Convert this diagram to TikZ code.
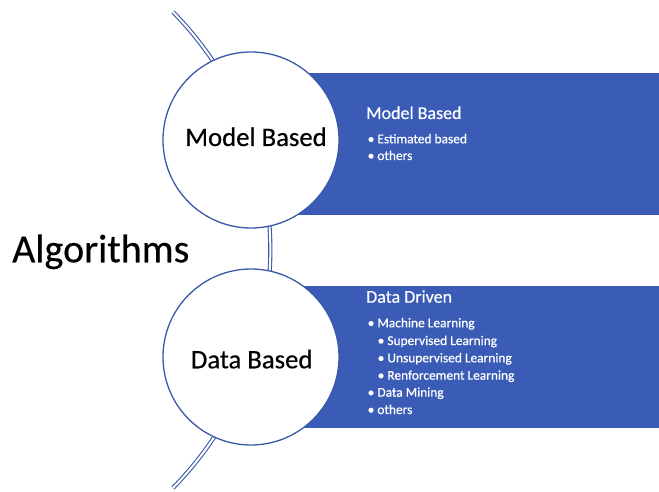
\documentclass[tikz,border=0pt]{standalone}
\usepackage{fontspec}
\setmainfont{Carlito}
\definecolor{panelblue}{HTML}{3A5CB6}
\definecolor{lineblue}{HTML}{3A5AA8}
\begin{document}
\begin{tikzpicture}[x=1pt,y=1pt,
  circ/.style={circle, draw=lineblue, line width=1.3pt, fill=white, minimum size=176pt, inner sep=0pt},
  panel/.style={fill=panelblue, draw=none},
  bigtext/.style={anchor=base, inner sep=0pt, text=black, font=\fontsize{26.7}{30}\selectfont\addfontfeature{FakeBold=0.4}},
  head/.style={anchor=base west, text=white, font=\fontsize{18}{20}\selectfont\addfontfeature{FakeBold=0.3}},
  item/.style={anchor=base west, text=white, font=\fontsize{13.4}{15}\selectfont\addfontfeature{FakeBold=0.6}},
  arcline/.style={draw=lineblue, line width=1.1pt, double=white, double distance=2pt}
]
\tikzset{head/.append style={inner sep=0pt}, item/.append style={inner sep=0pt}}
\useasboundingbox (0,0) rectangle (659,491);
\fill[white] (0,0) rectangle (659,491);
% big arc behind circles
\coordinate (arcTop) at (173,479);
\draw[arcline] (arcTop) arc[start angle=44.5, end angle=-44.5, radius=339.5];
% panels
\fill[panel] (251,418) rectangle (659,276);
\fill[panel] (251,205) rectangle (659,63);
% circles
\node[circ] (mbc) at (251,351) {};
\node[circ] (dbc) at (251,134) {};
\node[bigtext] (mbt) at (256,345) {Model Based};
\node[bigtext] (dbt) at (251.7,122.7) {Data Based};
% title
\node[anchor=base west, inner sep=0pt, font=\fontsize{40}{44}\selectfont\addfontfeature{FakeBold=0.4}] (alg) at (12,228.7) {Algorithms};
% top panel text
\node[head] (h1) at (366,372) {Model Based};
\node[item] (t1) at (367.5,347.7) {• Estimated based};
\node[item] (t2) at (367.5,331) {• others};
% bottom panel text
\node[head] (h2) at (366,188.3) {Data Driven};
\node[item] (b1) at (367.5,163.7) {• Machine Learning};
\node[item] (b2) at (377.5,146) {• Supervised Learning};
\node[item] (b3) at (377.5,128.7) {• Unsupervised Learning};
\node[item] (b4) at (377.5,111.3) {• Renforcement Learning};
\node[item] (b5) at (367.5,94.3) {• Data Mining};
\node[item] (b6) at (367.5,77) {• others};
\end{tikzpicture}
\end{document}
